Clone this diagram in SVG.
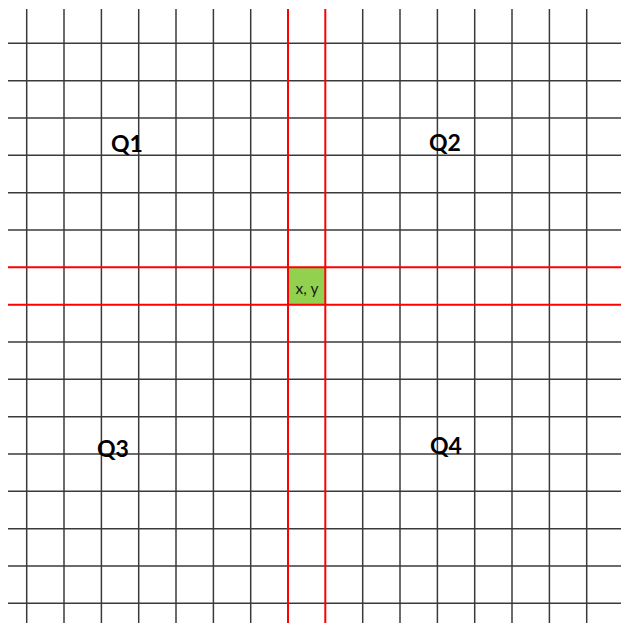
<svg xmlns="http://www.w3.org/2000/svg" width="621" height="623" viewBox="0 0 621 623">
<style>
.g line{stroke:#3a3a3a;stroke-width:1.5}
.r line{stroke:#ff0000;stroke-width:2}
.q{font-family:Lato,"Liberation Sans",sans-serif;font-weight:bold;font-size:23px;fill:#000}
.c{font-family:Lato,"Liberation Sans",sans-serif;font-size:15.5px;fill:#1a1a1a}
</style>
<rect width="621" height="623" fill="#fff"/>
<g id="grid" class="g">
<line x1="26.7" y1="9" x2="26.7" y2="623"/>
<line x1="64" y1="9" x2="64" y2="623"/>
<line x1="101.4" y1="9" x2="101.4" y2="623"/>
<line x1="138.7" y1="9" x2="138.7" y2="623"/>
<line x1="176" y1="9" x2="176" y2="623"/>
<line x1="213.4" y1="9" x2="213.4" y2="623"/>
<line x1="250.7" y1="9" x2="250.7" y2="623"/>
<line x1="362.7" y1="9" x2="362.7" y2="623"/>
<line x1="400" y1="9" x2="400" y2="623"/>
<line x1="437.4" y1="9" x2="437.4" y2="623"/>
<line x1="474.7" y1="9" x2="474.7" y2="623"/>
<line x1="512" y1="9" x2="512" y2="623"/>
<line x1="549.4" y1="9" x2="549.4" y2="623"/>
<line x1="586.7" y1="9" x2="586.7" y2="623"/>
<line x1="8" y1="43.3" x2="621" y2="43.3"/>
<line x1="8" y1="80.7" x2="621" y2="80.7"/>
<line x1="8" y1="118" x2="621" y2="118"/>
<line x1="8" y1="155.3" x2="621" y2="155.3"/>
<line x1="8" y1="192.7" x2="621" y2="192.7"/>
<line x1="8" y1="230" x2="621" y2="230"/>
<line x1="8" y1="342" x2="621" y2="342"/>
<line x1="8" y1="379.3" x2="621" y2="379.3"/>
<line x1="8" y1="416.7" x2="621" y2="416.7"/>
<line x1="8" y1="454" x2="621" y2="454"/>
<line x1="8" y1="491.3" x2="621" y2="491.3"/>
<line x1="8" y1="528.7" x2="621" y2="528.7"/>
<line x1="8" y1="566" x2="621" y2="566"/>
<line x1="8" y1="603.3" x2="621" y2="603.3"/>
</g>
<g id="cell">
<rect x="288" y="267.3" width="37.3" height="37.4" fill="#92d050"/>
<text class="c" x="307" y="293.5" text-anchor="middle">x, y</text>
</g>
<g id="axes" class="r">
<line x1="288" y1="9" x2="288" y2="623"/>
<line x1="325.3" y1="9" x2="325.3" y2="623"/>
<line x1="8" y1="267.3" x2="621" y2="267.3"/>
<line x1="8" y1="304.7" x2="621" y2="304.7"/>
</g>
<g id="labels">
<text class="q" x="111" y="152">Q1</text>
<text class="q" x="429" y="151">Q2</text>
<text class="q" x="97" y="456.5">Q3</text>
<text class="q" x="430" y="454">Q4</text>
</g>
</svg>
